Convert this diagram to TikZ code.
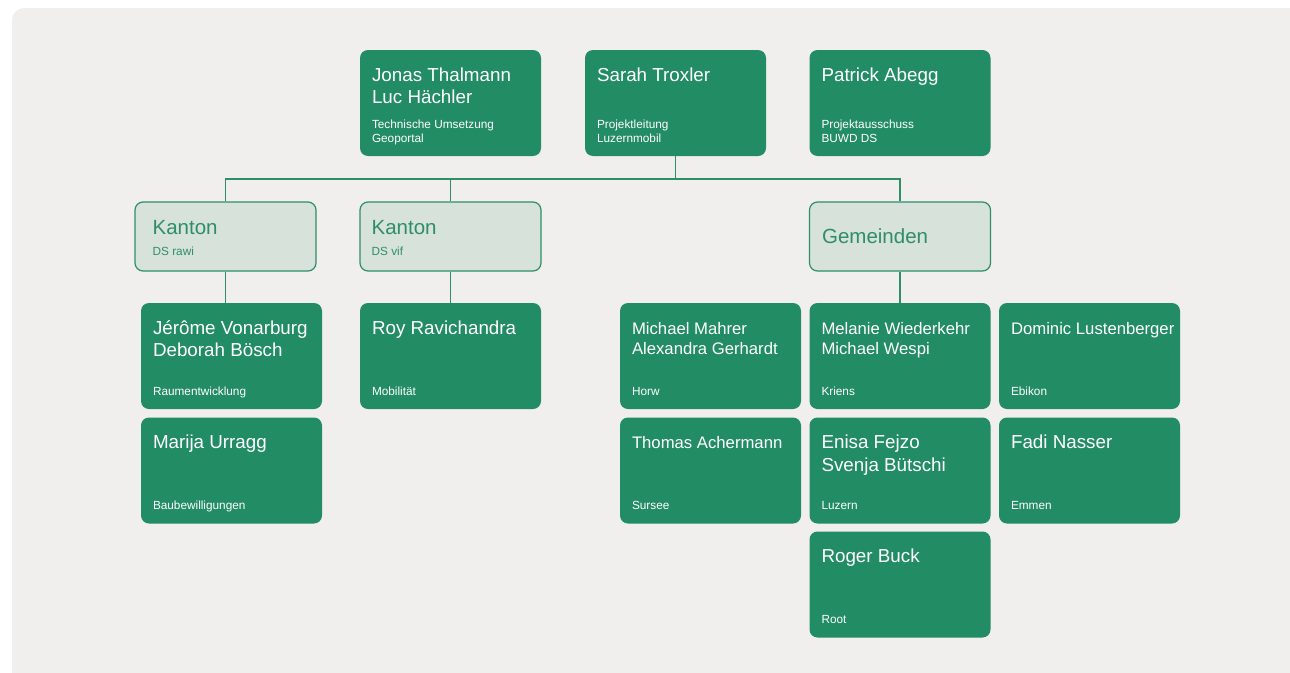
\documentclass[tikz,border=0pt]{standalone}
\usepackage{fontspec}
\setmainfont{Liberation Sans}
\usetikzlibrary{positioning}

\definecolor{orgbg}{HTML}{F0EFED}
\definecolor{orggreen}{HTML}{228C64}
\definecolor{orglight}{HTML}{D6E2DA}
\definecolor{orgline}{HTML}{2E8F67}

\tikzset{
  person/.style={rectangle,rounded corners=8pt,fill=orggreen,inner sep=0pt,
    minimum width=181pt,minimum height=106pt},
  group/.style={rectangle,rounded corners=8pt,fill=orglight,draw=orgline,line width=1.2pt,
    inner sep=0pt,minimum width=181pt,minimum height=69pt},
  % first line carries a strut, so north west sits a fixed distance above its baseline
  namebig/.style={font=\fontsize{18.8}{22.5}\selectfont,text=white,align=left,inner sep=0pt,
    anchor=north west,yshift=15.75pt},
  namesmall/.style={font=\fontsize{16.7}{20}\selectfont,text=white,align=left,inner sep=0pt,
    anchor=north west,yshift=14pt},
  roletext/.style={font=\fontsize{11.8}{14}\selectfont,text=white,align=left,inner sep=0pt,anchor=base west},
  grouptext/.style={font=\fontsize{20.5}{24}\selectfont,text=orgline,inner sep=0pt,anchor=base west},
  groupsub/.style={font=\fontsize{11.8}{14}\selectfont,text=orgline,inner sep=0pt,anchor=base west},
  link/.style={draw=orgline,line width=1.3pt}
}

\begin{document}
\begin{tikzpicture}[x=1pt,y=-1pt]
  \useasboundingbox (0,0) rectangle (1290,672);
  \clip (0,0) rectangle (1290,672);
  \fill[orgbg,rounded corners=12pt] (12,8) rectangle (1310,690);

  % groups
  \node[group] (kantonA) at (225.5,236.5) {};
  \node[group] (kantonB) at (450.5,236.5) {};
  \node[group] (gemeinden) at (900,236.5) {};
  \node[grouptext] (kantonA-n) at ([xshift=18pt,yshift=-33pt]kantonA.north west) {Kanton};
  \node[groupsub] (kantonA-s) at ([xshift=18pt,yshift=16pt]kantonA.south west) {DS rawi};
  \node[grouptext] (kantonB-n) at ([xshift=12pt,yshift=-33pt]kantonB.north west) {Kanton};
  \node[groupsub] (kantonB-s) at ([xshift=12pt,yshift=16pt]kantonB.south west) {DS vif};
  \node[grouptext,anchor=west] (gemeinden-n) at ([xshift=13pt]gemeinden.west) {Gemeinden};

  % people
  \foreach \id/\cx/\cy/\st/\who/\what in {
      jonas/450.5/103/namebig/{Jonas Thalmann\\Luc Hächler}/{Technische Umsetzung\\Geoportal},
      sarah/675.5/103/namebig/{Sarah Troxler}/{Projektleitung\\Luzernmobil},
      patrick/900/103/namebig/{Patrick Abegg}/{Projektausschuss\\BUWD DS},
      jerome/231.5/356/namebig/{Jérôme Vonarburg\\Deborah Bösch}/{Raumentwicklung},
      roy/450.5/356/namebig/{Roy Ravichandra}/{Mobilität},
      mahrer/710.5/356/namesmall/{Michael Mahrer\\Alexandra Gerhardt}/{Horw},
      melanie/900/356/namesmall/{Melanie Wiederkehr\\Michael Wespi}/{Kriens},
      dominic/1089.5/356/namesmall/{Dominic Lustenberger}/{Ebikon},
      marija/231.5/470.5/namebig/{Marija Urragg}/{Baubewilligungen},
      thomas/710.5/470.5/namesmall/{Thomas Achermann}/{Sursee},
      enisa/900/470.5/namebig/{Enisa Fejzo\\Svenja Bütschi}/{Luzern},
      fadi/1089.5/470.5/namebig/{Fadi Nasser}/{Emmen},
      roger/900/584.5/namebig/{Roger Buck}/{Root}}
  {
    \node[person] (\id) at (\cx,\cy) {};
    \node[\st] (\id-n) at ([xshift=12pt,yshift=-31pt]\id.north west) {\strut\who};
    \node[roletext] (\id-s) at ([xshift=12pt,yshift=14pt]\id.south west) {\what};
  }

  % connectors
  \coordinate (bus) at (675.5,179);
  \draw[link] (sarah.south) -- (bus);
  \draw[link] (kantonA.north) |- (bus) -| (gemeinden.north);
  \draw[link] (kantonB.north) -- (kantonB.north |- bus);
  \foreach \from/\to in {kantonA/jerome,kantonB/roy,gemeinden/melanie}
    \draw[link] (\from.south) -- (\from.south |- \to.north);

\end{tikzpicture}
\end{document}
